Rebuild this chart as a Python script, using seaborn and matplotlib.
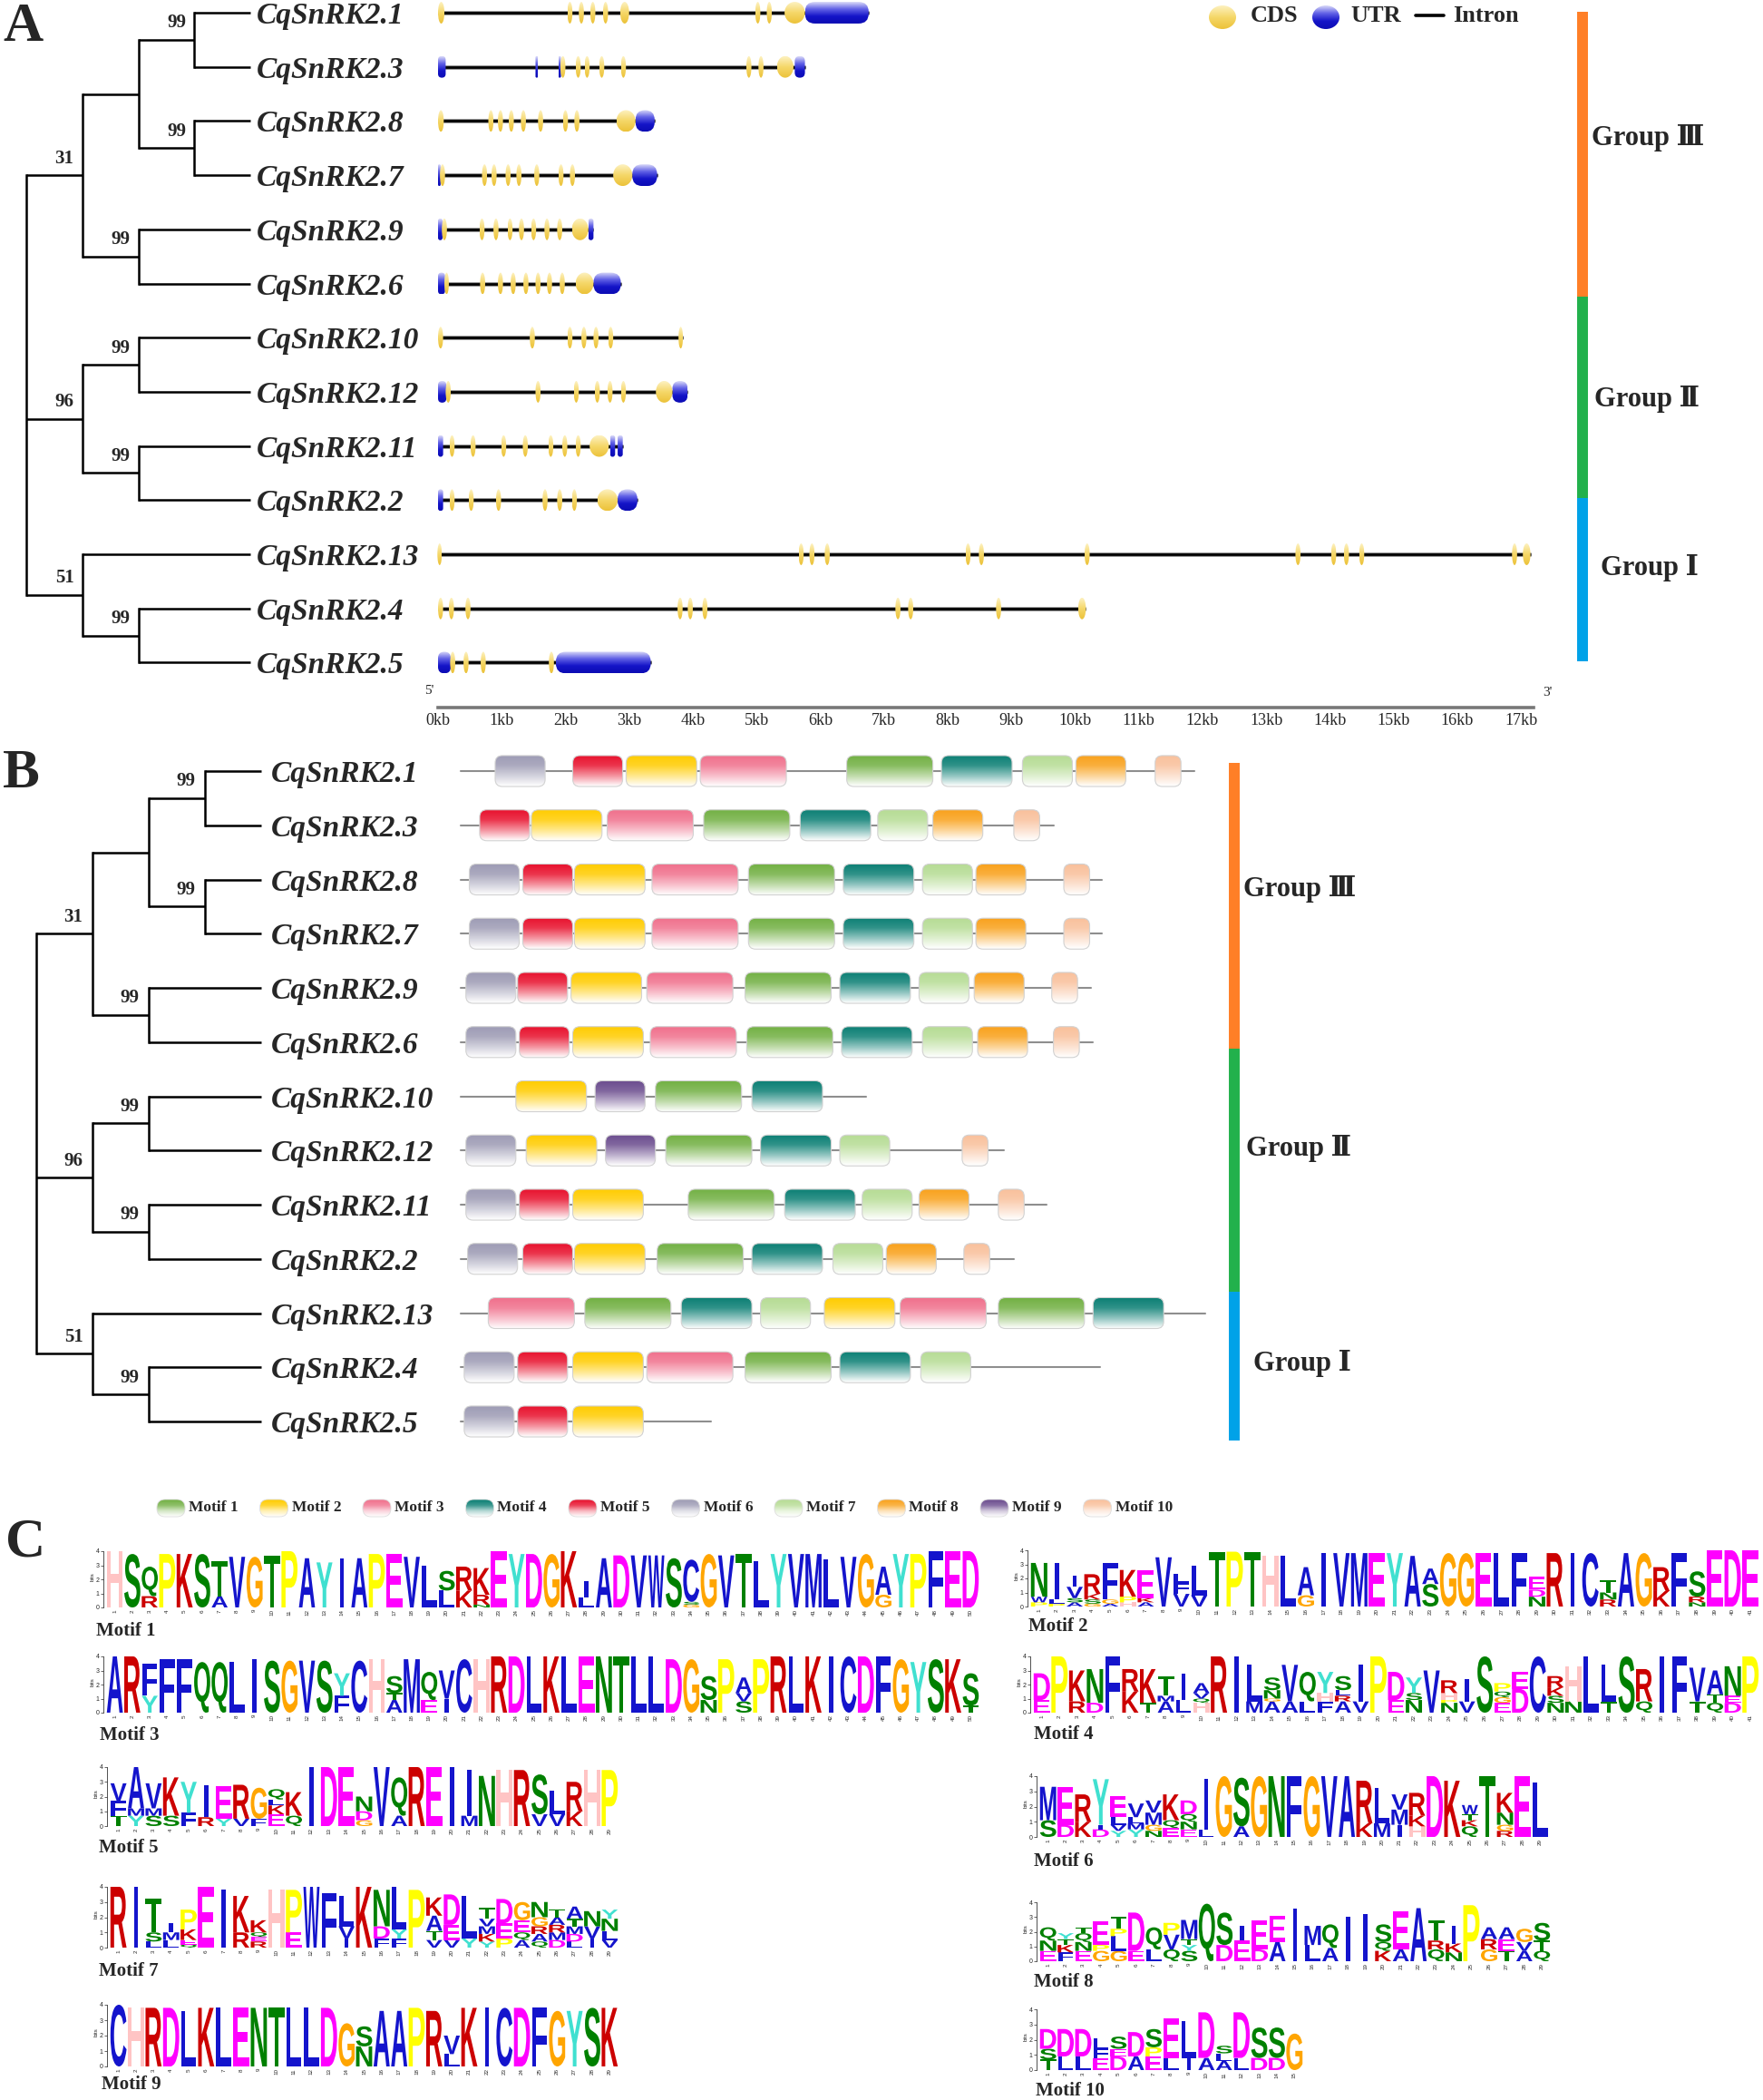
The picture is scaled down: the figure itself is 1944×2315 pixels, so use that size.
import re
import numpy as np
import matplotlib
matplotlib.use("Agg")
import matplotlib.pyplot as plt
import matplotlib.colors as mcolors
import matplotlib.transforms as mtransforms
from matplotlib.patches import Ellipse, FancyBboxPatch, PathPatch
from matplotlib.textpath import TextPath
from matplotlib.font_manager import FontProperties
import seaborn as sns

########## DATA ##########
GENES = ["CqSnRK2.1", "CqSnRK2.3", "CqSnRK2.8", "CqSnRK2.7", "CqSnRK2.9", "CqSnRK2.6",
         "CqSnRK2.10", "CqSnRK2.12", "CqSnRK2.11", "CqSnRK2.2",
         "CqSnRK2.13", "CqSnRK2.4", "CqSnRK2.5"]

# tree as (children, bootstrap)
TREE = ([
    ([([(["CqSnRK2.1", "CqSnRK2.3"], 99), (["CqSnRK2.8", "CqSnRK2.7"], 99)], None),
      (["CqSnRK2.9", "CqSnRK2.6"], 99)], 31),
    ([(["CqSnRK2.10", "CqSnRK2.12"], 99), (["CqSnRK2.11", "CqSnRK2.2"], 99)], 96),
    (["CqSnRK2.13", (["CqSnRK2.4", "CqSnRK2.5"], 99)], 51),
], None)

# gene structure (kb), same order as GENES
CDS_KB = [
    [(0.0, 0.1), (2.03, 2.11), (2.21, 2.29), (2.39, 2.47), (2.59, 2.67), (2.86, 3.0), (4.98, 5.06), (5.16, 5.24), (5.44, 5.76)],
    [(1.92, 2.0), (2.16, 2.24), (2.3, 2.38), (2.53, 2.61), (2.87, 2.95), (4.84, 4.92), (5.03, 5.11), (5.32, 5.58)],
    [(0.0, 0.09), (0.79, 0.87), (0.94, 1.02), (1.11, 1.19), (1.3, 1.38), (1.57, 1.65), (1.96, 2.04), (2.14, 2.22), (2.8, 3.1)],
    [(0.03, 0.11), (0.69, 0.77), (0.84, 0.92), (1.06, 1.14), (1.23, 1.31), (1.51, 1.59), (1.89, 1.97), (2.07, 2.15), (2.75, 3.05)],
    [(0.06, 0.14), (0.65, 0.73), (0.87, 0.95), (1.09, 1.17), (1.27, 1.35), (1.46, 1.54), (1.67, 1.75), (1.87, 1.95), (2.1, 2.36)],
    [(0.1, 0.17), (0.66, 0.74), (0.94, 1.02), (1.14, 1.22), (1.34, 1.42), (1.53, 1.61), (1.71, 1.79), (1.91, 1.99), (2.16, 2.44)],
    [(0.0, 0.08), (1.44, 1.52), (2.03, 2.11), (2.25, 2.33), (2.44, 2.52), (2.67, 2.75), (3.78, 3.84)],
    [(0.12, 0.2), (1.53, 1.61), (2.13, 2.21), (2.46, 2.54), (2.66, 2.74), (2.87, 2.95), (3.42, 3.68)],
    [(0.18, 0.26), (0.51, 0.59), (0.99, 1.07), (1.33, 1.41), (1.73, 1.81), (1.95, 2.03), (2.16, 2.24), (2.38, 2.68)],
    [(0.18, 0.26), (0.48, 0.56), (0.91, 0.99), (1.64, 1.72), (1.87, 1.95), (2.1, 2.18), (2.5, 2.82)],
    [(0.0, 0.05), (5.66, 5.74), (5.83, 5.91), (6.07, 6.15), (8.28, 8.36), (8.49, 8.57), (10.15, 10.23), (13.46, 13.54),
     (14.02, 14.1), (14.22, 14.3), (14.46, 14.54), (16.86, 16.94), (17.03, 17.15)],
    [(0.0, 0.08), (0.17, 0.25), (0.43, 0.51), (3.76, 3.84), (3.92, 4.0), (4.15, 4.23), (7.18, 7.26), (7.38, 7.46), (8.76, 8.84), (10.05, 10.17)],
    [(0.19, 0.27), (0.4, 0.48), (0.67, 0.75), (1.74, 1.82)],
]
UTR_KB = [
    [(5.76, 6.76)],
    [(0.0, 0.12), (1.53, 1.57), (1.89, 1.93), (5.6, 5.76)],
    [(3.1, 3.4)],
    [(0.0, 0.04), (3.05, 3.44)],
    [(0.0, 0.07), (2.36, 2.44)],
    [(0.0, 0.11), (2.44, 2.87)],
    [],
    [(0.0, 0.13), (3.68, 3.92)],
    [(0.0, 0.08), (2.7, 2.78), (2.82, 2.9)],
    [(0.0, 0.08), (2.82, 3.13)],
    [],
    [],
    [(0.0, 0.2), (1.85, 3.34)],
]
KB_TICKS = list(range(18))

# conserved motifs (aa), same order as GENES
MOTIF_NAMES = ["Motif %d" % k for k in range(1, 11)]
MOTIF_LEN = [50, 41, 50, 41, 29, 29, 29, 29, 29, 15]
MOTIF_COLORS = ["#72b043", "#ffcc00", "#f0708c", "#0b7f74", "#e8112d",
                "#9d9bb4", "#b6dc94", "#f9a11b", "#6b4c8e", "#f9c09b"]
PROT_LEN = [426, 344, 372, 372, 366, 367, 235, 315, 340, 321, 432, 371, 145]
MOTIF_HITS = [
    [(6, 20), (5, 65), (2, 96), (3, 139), (1, 224), (4, 279), (7, 326), (8, 357), (10, 403)],
    [(5, 11), (2, 41), (3, 85), (1, 141), (4, 197), (7, 242), (8, 274), (10, 321)],
    [(6, 5), (5, 36), (2, 66), (3, 111), (1, 167), (4, 222), (7, 268), (8, 299), (10, 350)],
    [(6, 5), (5, 36), (2, 66), (3, 111), (1, 167), (4, 222), (7, 268), (8, 299), (10, 350)],
    [(6, 3), (5, 33), (2, 64), (3, 108), (1, 165), (4, 220), (7, 266), (8, 298), (10, 343)],
    [(6, 3), (5, 34), (2, 65), (3, 110), (1, 166), (4, 221), (7, 268), (8, 300), (10, 344)],
    [(2, 32), (9, 78), (1, 113), (4, 169)],
    [(6, 3), (2, 38), (9, 84), (1, 119), (4, 174), (7, 220), (10, 291)],
    [(6, 3), (5, 34), (2, 65), (1, 132), (4, 188), (7, 233), (8, 266), (10, 312)],
    [(6, 4), (5, 36), (2, 66), (1, 114), (4, 169), (7, 216), (8, 247), (10, 292)],
    [(3, 16), (1, 72), (4, 128), (7, 174), (2, 211), (3, 255), (1, 312), (4, 367)],
    [(6, 2), (5, 33), (2, 65), (3, 108), (1, 165), (4, 220), (7, 267)],
    [(6, 2), (5, 33), (2, 65)],
]

GROUP_NAMES = ["Group \u2162", "Group \u2161", "Group \u2160"]
GROUP_COLORS = ["#ff7f27", "#22b14c", "#00a2e8"]
GROUP_ROWS_A = [(-0.02, 5.24), (5.24, 8.96), (8.96, 11.98)]
GROUP_ROWS_B = [(-0.15, 5.12), (5.12, 9.6), (9.6, 12.35)]

# sequence logo columns: letter + height in tenths of bits, listed top to bottom
MOTIF_LOGOS = [
    "H40 S38 Q21R8 P38 K38 S38 T25A8 V36 G36 T37 P40 A35 Y32 I35 A35 P38 E38 V36 L30 S14L12 R17K12 K19R7N2 "
    "E40 Y38 D38 G38 K40 I12L7 A35 D37 V37 W37 S35 C30S2G2 G38 V37 T38 L33 Y38 V38 M38 L34 V36 G38 A20G9 "
    "Y38 P38 F40 E40 D40",
    "N24W4P3 I26L3P2 I8V8S3A3 R14K4S3G2 F26G3A2 K19P4H3 E20K3A3 V35 L6F8V9 L21V8 T39 P39 T39 H36 L36 A20G8 "
    "I38 V38 M38 E38 Y38 A36 A11S16 G38 G38 E38 L38 F38 E9D5N7 R38 I38 C38 T9N5R5 A38 G38 R17K11 F38 "
    "S18R4N3 E40 D40 E40",
    "A40 R40 F23Y12 F38 F38 Q36 Q36 L36 I38 S37 G37 V37 S37 Y16F12 C37 H38 S12T5A9 M38 Q20E9 V20I10 C38 "
    "H38 R40 D40 L40 K40 L40 E40 N40 T40 L40 L40 D38 G38 S17N9 P38 A11V6S8 P38 R40 L40 K40 I40 C40 D40 "
    "F40 G38 Y36 S38 K38 S23T5",
    "D19E9 P40 K22R8 N24D7 F40 R16K15 K24T7 T14M4A8 I19L9 A7V4Q3H7 R40 I40 L26M8 S9N6G2A8 V26A8 Q21L8 "
    "Y15H6F8 S10L4R4A8 I26V8 P40 D20E9 Y11S5N9 V30 R9H5P2N7 I16V8 S40 P6Q4G4E7 E12D17 C40 R8K6S5N7 H25N8 "
    "L40 L26T8 S40 R23Q8 I40 F40 V24T8 A17T6Q7 N21E5D7 P40",
    "V12F10T7 A28M5Y7 V17M5S7 K26S7 Y21F9 I22R6 E22Y5 R23V5 G21F5 Q7L4K6E8 K16Q7 I40 D40 E40 N10D6G4 V40 "
    "Q26A7 R40 E40 I40 I31M7 N34 H38 R38 S27V8 L16V8 R20K10 H38 P38",
    "M22S11 E25D8 R18K10 Y30I3D5 E14L5V4Y4 V9L4M4Y5 V8M8G4N4 K17Q5E6 D9Q5N5E5 I33L5 G40 S32A7 G40 N40 F40 "
    "G40 V40 A40 R28K9 L23M9 V10M10I8 R15K7H7 D40 K37 W6T4K4Q7 T40 K13N8G4R4 E40 L36",
    "R40 I40 T22S6L4 I6M5L5 P13K7E3Q2 E40 I38 K24R10 K8Q3E3R4 H38 P28E10 W40 F36 L20V8I6 K40 N24D8F6 "
    "L28Y6F6 P38 K12A10T6V5 D20E10V5 L28Y6 T7V5M5K5Y4 D16E10P6 G12E8Q5A5 N10G6R5A5Q4 T5A5R5M5D5 "
    "A8T5M5D5L4 N10V8I6 Y6N8L6V5",
    "Q9N7E7 Y4T4K5F6 T4Q6N6E7 E16P4G7 T8P5L10G7 D26E7 Q15L8 P8V10Q8 M13T4Y4S7 Q39 S22D11 I10E14 E20D8 "
    "E18A13 I36 M13L11 Q16A9 I30 I32 S12Q6K7 E26A8 A36 T14R6Q8 I12K6N6 P38 A8R7G8 A8E8T7 G9V6A7 S12T7Q7",
    "C40 H38 R38 D38 L36 K38 L38 E38 N38 T38 L38 L38 D38 G28 S13N13 A36 A36 P38 R36 V12L8 K38 I38 C38 "
    "D38 F38 G36 Y36 S38 K38",
    "D13S7T7 D18L9 D18L9 L7F6E8 S8E5D9 D16A9 S12P6E9 E26L8 L24I8 D30A8 S5L5A6 D30L8 S20D8 S20D8 G24",
]

AA_COLORS = {}
for aa in "ACFILVWM":
    AA_COLORS[aa] = "#1414cc"
for aa in "KR":
    AA_COLORS[aa] = "#cc0000"
for aa in "DE":
    AA_COLORS[aa] = "#ff00ff"
for aa in "NQST":
    AA_COLORS[aa] = "#008000"
AA_COLORS.update({"G": "#ffa500", "P": "#ffff00", "Y": "#40e0d0", "H": "#ffc4c4"})

########## LAYOUT ##########
W, H = 1944, 2315
sns.set_theme(style="white")
plt.rcParams["font.family"] = ["Liberation Serif", "DejaVu Serif", "DejaVu Sans"]
SERIF = ["Liberation Serif", "DejaVu Serif", "DejaVu Sans"]

fig = plt.figure(figsize=(W / 100, H / 100), dpi=100)
fig.patch.set_facecolor("white")


def px_axes(x0, y0, x1, y1, off=True):
    ax = fig.add_axes([x0 / W, 1 - y1 / H, (x1 - x0) / W, (y1 - y0) / H])
    ax.set_facecolor("none")
    if off:
        ax.set_axis_off()
    return ax


def set_map(ax, box, xref, yref):
    # ref = (data value, pixel, pixels per unit); y grows downward
    x0, y0, x1, y1 = box
    d, p, s = xref
    ax.set_xlim(d + (x0 - p) / s, d + (x1 - p) / s)
    d, p, s = yref
    ax.set_ylim(d + (y1 - p) / s, d + (y0 - p) / s)


def ftext(x, y, s, **kw):
    fig.text(x / W, 1 - y / H, s, **kw)


def shade(ax, patch, stops, z=3, ec="none", lw=0):
    patch.set_facecolor("none")
    patch.set_edgecolor(ec)
    patch.set_linewidth(lw)
    patch.set_zorder(z + 0.1)
    ax.add_patch(patch)
    verts = patch.get_patch_transform().transform(patch.get_path().vertices)
    xa, ya = verts[:, 0], verts[:, 1]
    rgba = np.array([mcolors.to_rgba(c) for c in stops])
    t = np.linspace(0, 1, 48)
    pos = np.linspace(0, 1, len(stops))
    img = np.stack([np.interp(t, pos, rgba[:, k]) for k in range(4)], axis=1)[:, None, :]
    im = ax.imshow(img, extent=(xa.min(), xa.max(), ya.max(), ya.min()), origin="upper",
                   aspect="auto", interpolation="bilinear", zorder=z)
    im.set_clip_path(patch)


def blend(c, f):
    c = np.array(mcolors.to_rgb(c))
    return tuple(c + (1 - c) * f)


CDS_STOPS = ["#fdf1c0", "#f5d768", "#ecc23a"]
UTR_STOPS = ["#d8d8f8", "#6060e6", "#1414c8", "#0c0cb4"]
TIP = 4


def draw_tree(ax, node, depth, row_of, lw, lab_dx):
    if isinstance(node, str):
        return TIP, row_of[node]
    kids, support = node
    pts = [draw_tree(ax, k, depth + 1, row_of, lw, lab_dx) for k in kids]
    ys = [p[1] for p in pts]
    for kx, ky in pts:
        ax.plot([depth, kx], [ky, ky], color="black", lw=lw, solid_capstyle="butt")
    ax.plot([depth, depth], [min(ys), max(ys)], color="black", lw=lw, solid_capstyle="projecting")
    y = float(np.mean(ys))
    if support is not None:
        ax.text(depth - lab_dx, y - 0.31, str(support), ha="right", va="center",
                fontsize=15, fontweight="bold", family=SERIF)
    return depth, y


row_of = {g: i for i, g in enumerate(GENES)}

########## PANEL A ##########
ftext(3, 30, "A", fontsize=44, fontweight="bold", va="center", ha="left", family=SERIF)

box = (15, 0, 480, 790)
axt = px_axes(*box)
draw_tree(axt, TREE, 0, row_of, 1.8, 0.15)
for i, g in enumerate(GENES):
    axt.text(TIP + 0.11, i + 0.06, g, ha="left", va="center", fontsize=24,
             fontweight="bold", fontstyle="italic", family=SERIF)
set_map(axt, box, (0, 29, 61.75), (0, 14, 59.7))

box = (440, 0, 1730, 780)
axg = px_axes(*box, off=False)
kb_px, row_px = 70.24, 59.7
asp = kb_px / row_px
hh = 0.2
for r in range(len(GENES)):
    segs = CDS_KB[r] + UTR_KB[r]
    s0 = min(a for a, b in segs)
    s1 = max(b for a, b in segs)
    axg.plot([s0, s1], [r, r], color="#9a9a9a", lw=3.6, zorder=1, solid_capstyle="butt")
    axg.plot([s0, s1], [r, r], color="black", lw=2.0, zorder=2, solid_capstyle="butt")
    for a, b in UTR_KB[r]:
        rs = min(11 / kb_px, (b - a) / 2)
        p = FancyBboxPatch((a, r - hh), b - a, 2 * hh,
                           boxstyle="round,pad=0,rounding_size=%f" % rs, mutation_aspect=asp)
        shade(axg, p, UTR_STOPS, z=3)
    for a, b in CDS_KB[r]:
        p = Ellipse(((a + b) / 2, r), max(b - a, 0.07), 2 * hh)
        shade(axg, p, CDS_STOPS, z=4)
sns.despine(ax=axg, left=True)
axg.set_yticks([])
axg.set_xticks(KB_TICKS)
axg.set_xticklabels(["%dkb" % k for k in KB_TICKS], fontsize=13, family=SERIF)
axg.tick_params(axis="x", direction="in", length=8, width=1.4, color="black", pad=4)
axg.spines["bottom"].set_color("#777777")
axg.spines["bottom"].set_linewidth(2.6)
axg.spines["bottom"].set_bounds(0, 17.2)
set_map(axg, box, (0, 483, kb_px), (0, 14, row_px))
ftext(473, 762, "5'", fontsize=11, ha="center", va="center", family=SERIF)
ftext(1706, 764, "3'", fontsize=11, ha="center", va="center", family=SERIF)

# legend of gene parts
box = (1320, 0, 1700, 40)
axl = px_axes(*box)
shade(axl, Ellipse((1348, 19), 30, 26), CDS_STOPS)
shade(axl, Ellipse((1462, 19), 30, 26), UTR_STOPS)
axl.plot([1561, 1592], [17, 17], color="black", lw=2.6)
for x, s in [(1379, "CDS"), (1489, "UTR"), (1602, "Intron")]:
    axl.text(x, 17, s, ha="left", va="center", fontsize=19, fontweight="bold", family=SERIF)
set_map(axl, box, (1320, 1320, 1), (0, 0, 1))

# groups
box = (1725, 0, 1944, 790)
axq = px_axes(*box)
for (a, b), c in zip(GROUP_ROWS_A, GROUP_COLORS):
    axq.vlines(19.5, a, b, color=c, lw=8.6)
for name, x, y in zip(GROUP_NAMES, [30, 33, 40], [2.31, 7.14, 10.25]):
    axq.text(x, y, name, ha="left", va="center", fontsize=22, fontweight="bold", family=SERIF)
set_map(axq, box, (0, 1725, 1), (0, 14, 59.7))

########## PANEL B ##########
ftext(3, 853, "B", fontsize=44, fontweight="bold", va="center", ha="left", family=SERIF)

box = (20, 800, 490, 1620)
axt = px_axes(*box)
draw_tree(axt, TREE, 0, row_of, 1.8, 0.17)
for i, g in enumerate(GENES):
    axt.text(TIP + 0.18, i + 0.06, g, ha="left", va="center", fontsize=24,
             fontweight="bold", fontstyle="italic", family=SERIF)
set_map(axt, box, (0, 40, 62), (0, 850, 59.75))

box = (490, 800, 1345, 1620)
axm = px_axes(*box)
aa_px, rowb_px = 1.9, 59.75
mh = 0.285
for r in range(len(GENES)):
    axm.plot([0, PROT_LEN[r]], [r, r], color="#8e8e8e", lw=1.5, zorder=1)
    for m, st in MOTIF_HITS[r]:
        c = MOTIF_COLORS[m - 1]
        p = FancyBboxPatch((st, r - mh), MOTIF_LEN[m - 1], 2 * mh,
                           boxstyle="round,pad=0,rounding_size=%f" % (8 / aa_px),
                           mutation_aspect=aa_px / rowb_px)
        shade(axm, p, [c, blend(c, 0.15), blend(c, 0.55), "white"], z=3, ec="#d2d2d2", lw=0.8)
set_map(axm, box, (0, 508, aa_px), (0, 850, rowb_px))

box = (1345, 800, 1560, 1620)
axq = px_axes(*box)
for (a, b), c in zip(GROUP_ROWS_B, GROUP_COLORS):
    axq.vlines(16, a, b, color=c, lw=8.6)
for name, x, y in zip(GROUP_NAMES, [26, 29, 37], [2.18, 6.96, 10.93]):
    axq.text(x, y, name, ha="left", va="center", fontsize=22, fontweight="bold", family=SERIF)
set_map(axq, box, (0, 1345, 1), (0, 850, 59.75))

# motif legend
box = (160, 1645, 1320, 1680)
axl = px_axes(*box)
for k, name in enumerate(MOTIF_NAMES):
    x = 173 + k * 113.5
    c = MOTIF_COLORS[k]
    p = FancyBboxPatch((x, 1653), 31, 19, boxstyle="round,pad=0,rounding_size=9")
    shade(axl, p, [c, blend(c, 0.2), blend(c, 0.7), "white"], ec="#dddddd", lw=0.6)
    axl.text(x + 35, 1662, name, ha="left", va="center", fontsize=12.5, fontweight="bold", family=SERIF)
set_map(axl, box, (0, 0, 1), (0, 0, 1))

########## PANEL C ##########
ftext(6, 1700, "C", fontsize=44, fontweight="bold", va="center", ha="left", family=SERIF)

LOGO_BOX = [(117, 1080, 1772, 1710), (1136, 1940, 1771, 1709),
            (117, 1080, 1888, 1826), (1139, 1940, 1888, 1826),
            (121, 682, 2013, 1948), (1146, 1708, 2025, 1958),
            (121, 682, 2147, 2080), (1146, 1710, 2162, 2097),
            (121, 682, 2278, 2210), (1146, 1437, 2282, 2215)]
LABEL_POS = [(106, 1798), (1134, 1793), (110, 1913), (1140, 1912), (109, 2037),
             (1140, 2052), (109, 2173), (1140, 2185), (112, 2298), (1142, 2305)]

LOGO_FONT = FontProperties(family="Liberation Sans", weight="bold")
_glyphs = {}


def put_letter(ax, ch, xc, y, h):
    if ch not in _glyphs:
        _glyphs[ch] = TextPath((0, 0), ch, size=1, prop=LOGO_FONT)
    p = _glyphs[ch]
    bb = p.get_extents()
    w = 0.92 * min(1.0, bb.width / 0.55)
    tr = (mtransforms.Affine2D().translate(-bb.x0, -bb.y0)
          .scale(w / bb.width, h / bb.height).translate(xc - w / 2, y))
    ax.add_patch(PathPatch(tr.transform_path(p), fc=AA_COLORS[ch], ec="none", clip_on=False))


for k, spec in enumerate(MOTIF_LOGOS):
    cols = spec.split()
    L = len(cols)
    x0, x1, yz, y4 = LOGO_BOX[k]
    colw = (x1 - x0) / L
    bpx = (yz - y4) / 4.0
    ax = px_axes(x0 - 3, yz - 4.4 * bpx, x1, yz, off=False)
    for i, tok in enumerate(cols):
        y = 0.0
        for ch, h in reversed(re.findall(r"([A-Z])(\d+)", tok)):
            hv = int(h) / 10.0
            put_letter(ax, ch, i + 1, y, hv)
            y += hv
    ax.set_xlim(0.5 - 3 / colw, L + 0.5)
    ax.set_ylim(0, 4.4)
    for sp in ["top", "right", "bottom"]:
        ax.spines[sp].set_visible(False)
    ax.spines["left"].set_bounds(0, 4)
    ax.spines["left"].set_linewidth(0.6)
    ax.spines["left"].set_color("#333333")
    ax.set_yticks([0, 1, 2, 3, 4])
    ax.set_yticklabels(["0", "1", "2", "3", "4"], fontsize=5, family="Liberation Sans")
    ax.set_xticks(range(1, L + 1))
    ax.set_xticklabels([str(j) for j in range(1, L + 1)], fontsize=4.5, rotation=90,
                       family="Liberation Sans")
    ax.tick_params(axis="y", length=2, width=0.5, pad=1, left=True)
    ax.tick_params(axis="x", length=0, pad=1.5)
    ax.set_ylabel("bits", fontsize=4.5, labelpad=1, family="Liberation Sans")
    lx, ly = LABEL_POS[k]
    ftext(lx, ly, MOTIF_NAMES[k], fontsize=15, fontweight="bold", ha="left", va="center", family=SERIF)

fig.savefig("out.png", dpi=100, facecolor="white")
